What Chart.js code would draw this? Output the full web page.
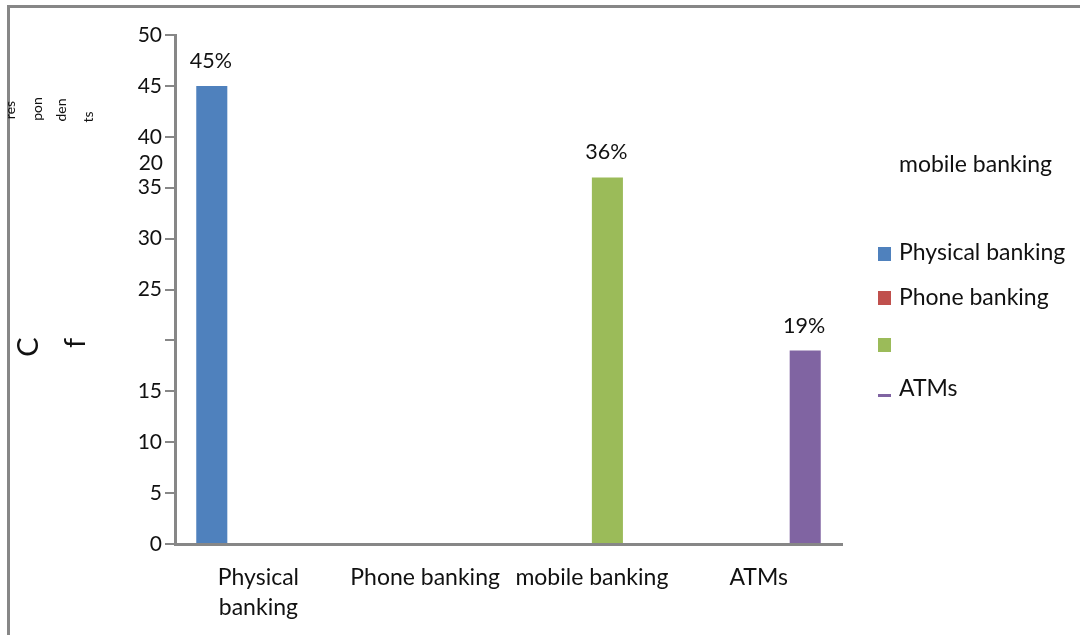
<!DOCTYPE html>
<html><head><meta charset="utf-8">
<script src="https://cdn.jsdelivr.net/npm/chart.js@4.4.0/dist/chart.umd.min.js"></script>
<style>html,body{margin:0;padding:0;background:#fff;}#wrap{position:relative;width:1080px;height:635px;}</style>
</head><body><div id="wrap"><canvas id="c" width="1080" height="635"></canvas></div>
<script>
const categories = [['Physical','banking'], 'Phone banking', 'mobile banking', 'ATMs'];
const seriesNames = ['Physical banking', 'Phone banking', 'mobile banking', 'ATMs'];
const physicalValues = [45, null, null, null];
const phoneValues = [null, 0, null, null];
const mobileValues = [null, null, 36, null];
const atmValues = [null, null, null, 19];
const yTicks = [0, 5, 10, 15, 20, 25, 30, 35, 40, 45, 50];
const yTickLabels = ['0', '5', '10', '15', '', '25', '30', '35', '40', '45', '50'];
const strayTickLabel = '20';
const axisTitleFragments = ['res', 'pon', 'den', 'ts'];
const axisTitleBig = ['C', 'f'];
const colors = ['#4f81bd', '#c0504d', '#9bbb59', '#8064a2'];

const FONT = 'Lato, "Open Sans", sans-serif';
const GRAY = '#878787';
const TEXT = '#111';

const frame = {
  id: 'frame',
  beforeDraw(chart) {
    const c = chart.ctx;
    c.save();
    c.fillStyle = '#fff';
    c.fillRect(0, 0, chart.width, chart.height);
    c.fillStyle = GRAY;
    c.fillRect(7, 5, chart.width - 7, 3);
    c.fillRect(7, 5, 3, chart.height - 5);
    c.restore();
  }
};

const valueLabels = {
  id: 'valueLabels',
  afterDatasetsDraw(chart) {
    const c = chart.ctx;
    c.save();
    c.font = '21.5px ' + FONT;
    c.fillStyle = TEXT;
    c.textAlign = 'center';
    c.textBaseline = 'middle';
    chart.data.datasets.forEach((ds, i) => {
      const meta = chart.getDatasetMeta(i);
      meta.data.forEach((bar, j) => {
        const v = ds.data[j];
        if (v == null || v === 0) return;
        c.fillText(v + '%', bar.x - 1, bar.y - 25);
      });
    });
    c.restore();
  }
};

const extras = {
  id: 'extras',
  afterDraw(chart) {
    const c = chart.ctx;
    const y = chart.scales.y;
    c.save();
    // stray tick label
    c.font = '21px ' + FONT;
    c.fillStyle = TEXT;
    c.textAlign = 'right';
    c.textBaseline = 'middle';
    c.fillText(strayTickLabel, 163, y.getPixelForValue(40) + 26);

    // garbled axis title fragments
    const small = [[10, 110], [37, 109], [61, 110], [88, 117]];
    c.font = '14px ' + FONT;
    c.textAlign = 'center';
    axisTitleFragments.forEach((t, i) => {
      c.save();
      c.translate(small[i][0], small[i][1]);
      c.rotate(-Math.PI / 2);
      c.fillText(t, 0, 0);
      c.restore();
    });
    const big = [[29, 347], [76, 343]];
    c.font = '29px ' + FONT;
    axisTitleBig.forEach((t, i) => {
      c.save();
      c.translate(big[i][0], big[i][1]);
      c.rotate(-Math.PI / 2);
      c.fillText(t, 0, 0);
      c.restore();
    });

    // legend
    c.font = '23px ' + FONT;
    c.textAlign = 'left';
    const markerY = [254, 298, 345, 395];
    const textY = [253, 298, null, 389];
    seriesNames.forEach((name, i) => {
      c.fillStyle = colors[i];
      if (i === 3) c.fillRect(878, markerY[i] - 1, 13, 3);
      else c.fillRect(878, markerY[i] - 7, 13, 14);
      c.fillStyle = TEXT;
      if (textY[i] != null) c.fillText(name, 899, textY[i]);
      else c.fillText(name, 899, 165);
    });
    c.restore();
  }
};

new Chart(document.getElementById('c'), {
  type: 'bar',
  data: {
    labels: categories,
    datasets: [
      { label: seriesNames[0], data: physicalValues, backgroundColor: colors[0] },
      { label: seriesNames[1], data: phoneValues, backgroundColor: colors[1] },
      { label: seriesNames[2], data: mobileValues, backgroundColor: colors[2] },
      { label: seriesNames[3], data: atmValues, backgroundColor: colors[3] }
    ]
  },
  options: {
    responsive: false,
    animation: false,
    devicePixelRatio: 1,
    layout: { padding: { left: 0, top: 35, right: 238, bottom: 0 } },
    datasets: { bar: { categoryPercentage: 0.745, barPercentage: 1.0 } },
    plugins: { legend: { display: false }, title: { display: false }, tooltip: { enabled: false } },
    scales: {
      x: {
        grid: { display: false },
        border: { display: true, color: GRAY, width: 3 },
        ticks: { font: { family: FONT, size: 23, lineHeight: 1.3 }, color: TEXT, padding: 11, maxRotation: 0, autoSkip: false },
        afterFit(s) { s.height = 91; }
      },
      y: {
        min: 0, max: 50,
        afterBuildTicks(s) { s.ticks = yTicks.map(v => ({ value: v })); },
        grid: { display: true, drawOnChartArea: false, drawTicks: true, tickLength: 10, color: GRAY, lineWidth: 2 },
        border: { display: true, color: GRAY, width: 3 },
        ticks: {
          font: { family: FONT, size: 21 }, color: TEXT, padding: 3,
          callback(v) { const i = yTicks.indexOf(v); return i >= 0 ? yTickLabels[i] : ''; }
        },
        afterFit(s) { s.width = 175; }
      }
    }
  },
  plugins: [frame, valueLabels, extras]
});
</script>
</body></html>
